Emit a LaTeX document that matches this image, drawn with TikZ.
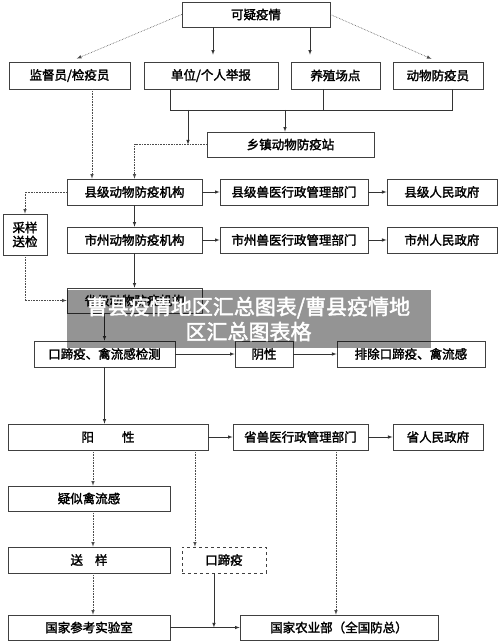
\documentclass[tikz,border=0pt]{standalone}
\usepackage{fontspec}
\newfontfamily\cjk{Noto Sans CJK SC}[AutoFakeBold=2]
\usepackage{tikz}
\usetikzlibrary{positioning,shapes,arrows,backgrounds}

\begin{document}
\begin{tikzpicture}[x=1pt, y=-1pt,
        box/.style={draw=black!75, line width=0.7pt, minimum height=26pt, inner sep=0pt,
            font=\cjk\bfseries\fontsize{12.5pt}{14pt}\selectfont},
        arr/.style={-latex, black!80, line width=0.6pt},
        dl/.style={-latex, densely dotted, black!70, line width=0.6pt}]
        \useasboundingbox (0,0) rectangle (500,644);

        \node[box, minimum width=148pt, minimum height=25pt] (kyyq) at (256,14.5) {可疑疫情};
        \node[box, minimum width=121pt, minimum height=27pt] (jdy) at (69.5,75.5) {监督员/检疫员};
        \node[box, minimum width=134pt, minimum height=27pt, right of=jdy, xshift=113pt] (dwjb) {单位/个人举报};
        \node[box, minimum width=89pt, minimum height=27pt, right of=dwjb, xshift=96pt] (yzcd) {养殖场点};
        \node[box, minimum width=90pt, minimum height=27pt, right of=yzcd, xshift=74pt] (dwfy) {动物防疫员};
        \node[box, minimum width=167pt, minimum height=25pt] (xzz) at (290.5,144.5) {乡镇动物防疫站};

        \node[box, minimum width=135pt] (xjjg) at (134.5,192) {县级动物防疫机构};
        \node[box, minimum width=148pt, right of=xjjg, xshift=131pt] (xjsy) {县级兽医行政管理部门};
        \node[box, minimum width=110pt, right of=xjsy, xshift=119.5pt] (xjzf) {县级人民政府};
        \node[box, minimum width=44pt, minimum height=41pt, align=center] (cysj) at (25,234.5) {采样\\送检};

        \node[box, minimum width=135pt] (szjg) at (134.5,240) {市州动物防疫机构};
        \node[box, minimum width=148pt, right of=szjg, xshift=131pt] (szsy) {市州兽医行政管理部门};
        \node[box, minimum width=110pt, right of=szsy, xshift=119.5pt] (szzf) {市州人民政府};

        \node[box, minimum width=135pt, minimum height=25pt] (sjjg) at (134.5,300.5) {省级动物防疫机构};

        \node[box, minimum width=141pt] (jc) at (104.5,354) {口蹄疫、禽流感检测};
        \node[box, minimum width=58pt, right of=jc, xshift=131pt] (yx) {阴性};
        \node[box, minimum width=148pt, right of=yx, xshift=118.5pt] (pc) {排除口蹄疫、禽流感};

        \node[box, minimum width=200pt] (yang) at (108,437) {阳\hspace{28pt}性};
        \node[box, minimum width=135pt, right of=yang, xshift=164pt] (ssy) {省兽医行政管理部门};
        \node[box, minimum width=90pt, right of=ssy, xshift=109pt] (szf) {省人民政府};

        \node[box, minimum width=162pt, minimum height=25pt] (ysq) at (89,498.5) {疑似禽流感};
        \node[box, minimum width=162pt] (sy) at (89,560) {送\hspace{12pt}样};
        \node[box, minimum width=84pt, dashed, right of=sy, xshift=106.5pt] (kty) {口蹄疫};
        \node[box, minimum width=162pt, minimum height=25pt] (gjsy) at (89,627.5) {国家参考实验室};
        \node[box, minimum width=198pt, minimum height=25pt, right of=gjsy, xshift=221.5pt] (nyb) {国家农业部（全国防总）};

        % top
        \draw[dl, shorten >=8pt] (kyyq.west) -- (jdy.north);
        \draw[dl, shorten >=7pt] (kyyq.east) -- (dwfy.north);
        \draw[arr, shorten >=7pt] ([xshift=-43pt]kyyq.south) -- ([xshift=-43pt]kyyq.south |- dwjb.north);
        \draw[arr, shorten >=7pt] ([xshift=54pt]kyyq.south) -- ([xshift=54pt]kyyq.south |- yzcd.north);

        \coordinate (busL) at (170,110);
        \draw[black!80, line width=0.6pt] (dwjb.south -| busL) -- (busL) -| ([xshift=14pt]dwfy.south);
        \draw[black!80, line width=0.6pt] ([xshift=-12.5pt]yzcd.south) -- ([xshift=-12.5pt]yzcd.south |- busL);
        \draw[arr] ([xshift=-5.5pt]xzz.north |- busL) -- ([xshift=-5.5pt]xzz.north);
        \draw[arr] ([xshift=18pt]busL) -- ([xshift=18pt]busL |- xzz.west);
        \draw[dl] (xzz.west) -| (xjjg.north);
        \draw[dl] ([xshift=22.5pt]jdy.south) -- ([xshift=22.5pt]jdy.south |- xjjg.north);

        % county and city
        \draw[arr] (xjjg) -- (xjsy);
        \draw[arr] (xjsy) -- (xjzf);
        \draw[arr] (szjg) -- (szsy);
        \draw[arr] (szsy) -- (szzf);
        \draw[arr] (xjjg) -- (szjg);
        \draw[arr] (szjg) -- (sjjg);
        \draw[dl] (xjjg.west) -| (cysj.north);
        \draw[dl] (cysj.south) |- (sjjg.west);
        \draw[arr] (sjjg.south -| jc.north) -- (jc.north);

        % test
        \draw[arr] (jc) -- (yx);
        \draw[arr] (yx) -- (pc);
        \draw[arr] (jc.south) -- (jc.south |- yang.north);
        \draw[arr] (yang) -- (ssy);
        \draw[arr] (ssy) -- (szf);
        \draw[dl] ([xshift=4pt]ysq.north |- yang.south) -- ([xshift=4pt]ysq.north);
        \draw[dl] ([xshift=4pt]ysq.south) -- ([xshift=4pt]sy.north);
        \draw[dl] ([xshift=4pt]sy.south) -- ([xshift=4pt]gjsy.north);
        \draw[dl] ([xshift=-29pt]kty.north |- yang.south) -- ([xshift=-29pt]kty.north);
        \draw[dl] ([xshift=-3pt]nyb.north |- ssy.south) -- ([xshift=-3pt]nyb.north);
        \draw[arr] (gjsy) -- (nyb);
        \draw[arr] ([xshift=-10pt]kty.south) -- ([xshift=-10pt]kty.south |- gjsy.east);

        % banner
        \node[fill=black, fill opacity=0.42, text opacity=1, text=white, minimum width=364pt, minimum height=58pt,
            inner sep=0pt, align=center, font=\cjk\bfseries\fontsize{21pt}{25pt}\selectfont] (banner) at (248.5,319)
            {曹县疫情地区汇总图表/曹县疫情地\\区汇总图表格};
    \end{tikzpicture}
\end{document}
